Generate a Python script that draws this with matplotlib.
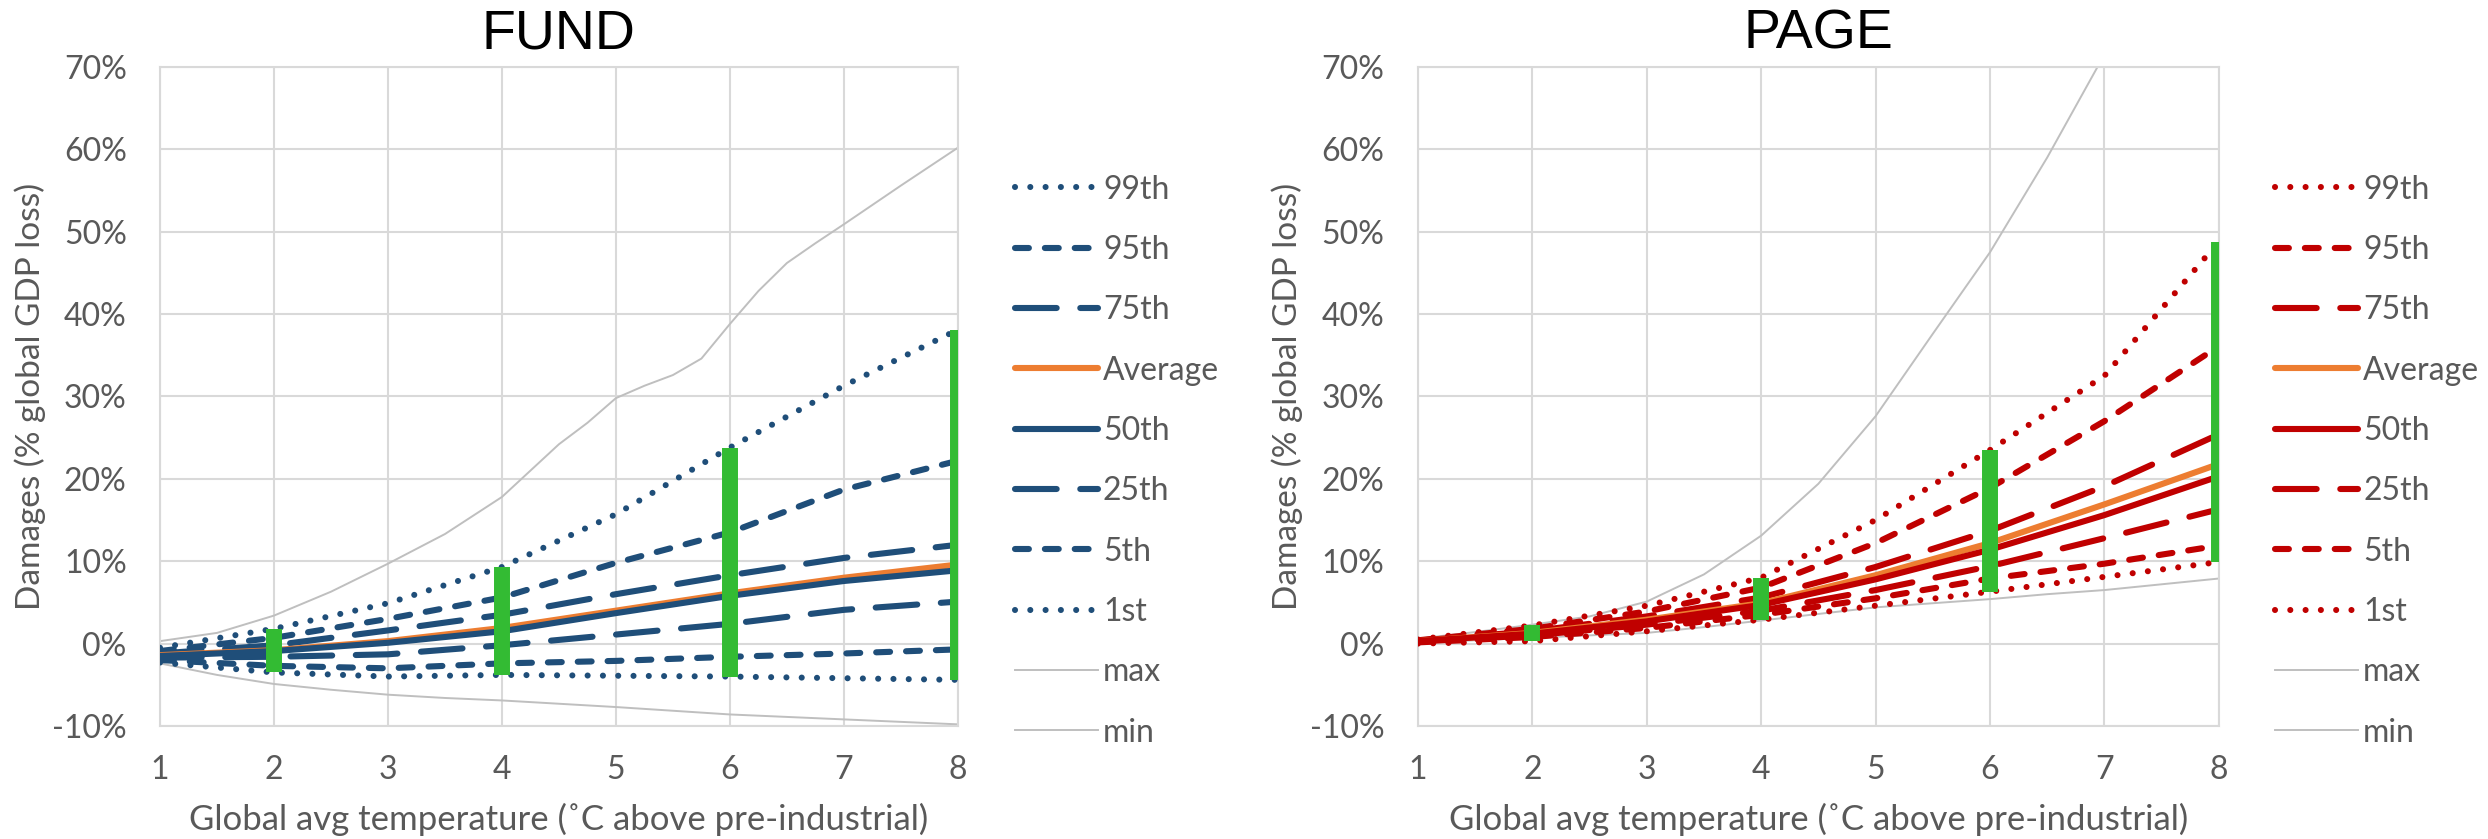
import matplotlib
matplotlib.use("Agg")
import matplotlib.pyplot as plt
from matplotlib.ticker import FuncFormatter

plt.rcParams['font.family'] = ['Lato', 'DejaVu Sans']
plt.rcParams['lines.scale_dashes'] = False

# x positions of the percentile curves (global avg temperature, C)
temps = [1, 2, 3, 4, 5, 6, 7, 8]
bar_temps = [2, 4, 6, 8]

# FUND damages (% of global GDP)
fund_p99 = [-0.5, 1.8, 4.9, 9.3, 15.7, 23.8, 31.3, 38.1]
fund_p95 = [-0.9, 0.7, 3.0, 5.6, 9.8, 13.5, 18.7, 22.2]
fund_p75 = [-1.2, -0.2, 1.6, 3.5, 6.0, 8.3, 10.4, 12.0]
fund_avg = [-1.4, -0.8, 0.3, 1.9, 4.0, 6.1, 8.0, 9.6]
fund_p50 = [-1.5, -0.9, 0.1, 1.5, 3.7, 5.8, 7.6, 8.9]
fund_p25 = [-1.7, -1.6, -1.3, -0.2, 1.1, 2.4, 4.1, 5.1]
fund_p5 = [-2.0, -2.7, -3.0, -2.4, -2.1, -1.6, -1.2, -0.7]
fund_p1 = [-2.3, -3.5, -4.0, -3.8, -3.9, -4.0, -4.2, -4.4]
fund_max_x = [1, 1.5, 2, 2.5, 3, 3.5, 4, 4.25, 4.5, 4.75, 5, 5.25, 5.5, 5.75,
              6, 6.25, 6.5, 6.75, 7, 7.5, 8]
fund_max = [0.3, 1.3, 3.4, 6.3, 9.7, 13.3, 17.8, 21.0, 24.2, 26.8, 29.8, 31.3,
            32.6, 34.6, 38.8, 42.8, 46.2, 48.6, 50.9, 55.6, 60.2]
fund_min_x = [1, 1.5, 2, 2.5, 3, 3.5, 4, 5, 6, 7, 8]
fund_min = [-2.4, -3.8, -4.9, -5.6, -6.2, -6.6, -6.9, -7.7, -8.6, -9.2, -9.8]

# PAGE damages (% of global GDP)
page_p99 = [0.5, 2.2, 4.6, 8.0, 15.0, 23.5, 32.5, 48.8]
page_p95 = [0.4, 1.8, 3.9, 6.8, 12.2, 18.9, 27.0, 36.1]
page_p75 = [0.35, 1.5, 3.3, 5.6, 9.3, 13.7, 19.1, 25.4]
page_avg = [0.3, 1.3, 2.9, 4.9, 8.3, 12.2, 16.9, 21.8]
page_p50 = [0.3, 1.2, 2.7, 4.7, 7.8, 11.4, 15.6, 20.3]
page_p25 = [0.25, 1.0, 2.3, 4.0, 6.5, 9.4, 12.8, 16.3]
page_p5 = [0.15, 0.8, 1.9, 3.5, 5.5, 7.9, 9.7, 11.9]
page_p1 = [0.0, 0.3, 1.5, 2.9, 4.6, 6.3, 8.1, 9.9]
page_max_x = [1, 1.5, 2, 2.5, 3, 3.5, 4, 4.5, 5, 5.5, 6, 6.5, 7, 7.5, 8]
page_max = [0.6, 1.4, 2.3, 3.3, 5.1, 8.4, 13.1, 19.4, 27.6, 37.6, 47.5, 59.0,
            71.5, 84.5, 98.0]
page_min_x = [1, 1.5, 2, 2.5, 3, 3.5, 4, 4.5, 5, 5.5, 6, 6.5, 7, 7.5, 8]
page_min = [0.1, 0.4, 0.7, 1.0, 1.3, 2.0, 2.8, 3.6, 4.4, 4.9, 5.4, 6.0, 6.5,
            7.2, 7.9]

labels = ["99th", "95th", "75th", "Average", "50th", "25th", "5th", "1st", "max", "min"]

blue = "#1F4E79"
red = "#C00000"
orange = "#ED7D31"
grey = "#BFBFBF"
green = "#33BB33"
text_grey = "#595959"
grid_grey = "#D9D9D9"

dot = (0, (0.01, 11))
dash = (0, (10, 11.5))
long_dash = (0, (30, 17))


def draw_panel(ax, title, color, series, max_x, max_y, min_x, min_y, legend_x):
    styles = [dot, dash, long_dash, '-', '-', long_dash, dash, dot]
    colors = [color, color, color, orange, color, color, color, color]
    handles = []
    for vals, ls, c in zip(series, styles, colors):
        ln, = ax.plot(temps, vals, color=c, lw=4.4, linestyle=ls,
                      dash_capstyle='round', solid_capstyle='round', zorder=3)
        handles.append(ln)
    h_max, = ax.plot(max_x, max_y, color=grey, lw=1.4, zorder=2)
    h_min, = ax.plot(min_x, min_y, color=grey, lw=1.4, zorder=2)
    handles += [h_max, h_min]

    # green range bars from 1st to 99th percentile
    lows = [series[7][temps.index(t)] for t in bar_temps]
    highs = [series[0][temps.index(t)] for t in bar_temps]
    ax.vlines(bar_temps, lows, highs, color=green, lw=11.5, zorder=5, capstyle='butt')

    ax.set_xlim(1, 8)
    ax.set_ylim(-10, 70)
    ax.set_xticks(range(1, 9))
    ax.set_yticks(range(-10, 71, 10))
    ax.yaxis.set_major_formatter(FuncFormatter(lambda v, p: f"{v:.0f}%"))
    ax.grid(True, color=grid_grey, lw=1.5, zorder=0)
    ax.set_axisbelow(True)
    for s in ax.spines.values():
        s.set_color(grid_grey)
        s.set_linewidth(1.5)
    ax.tick_params(length=0, labelsize=23, labelcolor=text_grey)
    ax.tick_params(axis='y', pad=24)
    ax.tick_params(axis='x', pad=21)

    ax.set_title(title, fontsize=40, family=['Liberation Sans', 'DejaVu Sans'],
                 color='black', pad=13)
    ax.set_xlabel("Global avg temperature (˚C above pre-industrial)",
                  fontsize=25, color=text_grey)
    ax.set_ylabel("Damages (% global GDP loss)", fontsize=24, color=text_grey)
    ax.xaxis.set_label_coords(0.5, -0.117)
    ax.yaxis.set_label_coords(-0.143, 0.5)

    leg = ax.legend(handles, labels, loc='upper left',
                    bbox_to_anchor=(legend_x, 0.792), bbox_transform=fig.transFigure,
                    frameon=False, fontsize=23, handlelength=2.6,
                    handletextpad=0.15, labelspacing=0.95, borderpad=0,
                    borderaxespad=0)
    for t in leg.get_texts():
        t.set_color(text_grey)


fig = plt.figure(figsize=(24.88, 8.39), dpi=100)
ax1 = fig.add_axes([0.0643, 0.1347, 0.3207, 0.7855])
ax2 = fig.add_axes([0.5699, 0.1347, 0.3219, 0.7855])

draw_panel(ax1, "FUND", blue,
           [fund_p99, fund_p95, fund_p75, fund_avg, fund_p50, fund_p25, fund_p5, fund_p1],
           fund_max_x, fund_max, fund_min_x, fund_min, 0.408)
draw_panel(ax2, "PAGE", red,
           [page_p99, page_p95, page_p75, page_avg, page_p50, page_p25, page_p5, page_p1],
           page_max_x, page_max, page_min_x, page_min, 0.9145)

fig.savefig("out.png", dpi=100)
